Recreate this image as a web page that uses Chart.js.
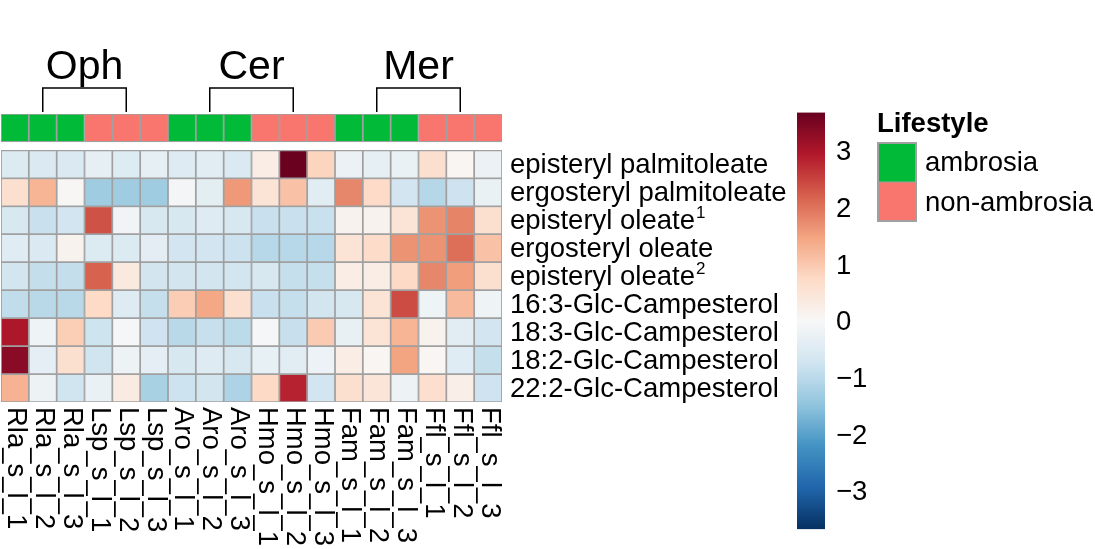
<!DOCTYPE html>
<html>
<head>
<meta charset="utf-8">
<script src="https://cdn.jsdelivr.net/npm/chart.js@4"></script>
<style>
html,body{margin:0;padding:0;background:#fff;}
canvas{display:block;}
</style>
</head>
<body>
<canvas id="c" width="1095" height="549"></canvas>
<script>
// ---------- data ----------
const columns = ['Rla_s_l_1','Rla_s_l_2','Rla_s_l_3','Lsp_s_l_1','Lsp_s_l_2','Lsp_s_l_3',
  'Aro_s_l_1','Aro_s_l_2','Aro_s_l_3','Hmo_s_l_1','Hmo_s_l_2','Hmo_s_l_3',
  'Fam_s_l_1','Fam_s_l_2','Fam_s_l_3','Ffl_s_l_1','Ffl_s_l_2','Ffl_s_l_3'];
const rowNames = ['episteryl palmitoleate','ergosteryl palmitoleate','episteryl oleate','ergosteryl oleate',
  'episteryl oleate','16:3-Glc-Campesterol','18:3-Glc-Campesterol','18:2-Glc-Campesterol','22:2-Glc-Campesterol'];
const rowSup = ['','','1','','2','','','',''];
const lifestyle = ['ambrosia','ambrosia','ambrosia','non-ambrosia','non-ambrosia','non-ambrosia',
  'ambrosia','ambrosia','ambrosia','non-ambrosia','non-ambrosia','non-ambrosia',
  'ambrosia','ambrosia','ambrosia','non-ambrosia','non-ambrosia','non-ambrosia'];
const lifestyleLevels = ['ambrosia','non-ambrosia'];
const groupNames = ['Oph','Cer','Mer'];
const groupFrom = [1,7,13];
const groupTo = [4,10,16];
const colorbarTicks = [3,2,1,0,-1,-2,-3];
const colorMin = -3.66, colorMax = 3.69;

const episterylPalmitoleate = [-0.50,-0.53,-0.53,-0.32,-0.48,-0.32,-0.47,-0.40,-0.53,0.28,3.66,0.83,-0.21,-0.33,-0.25,0.62,0.08,-0.21];
const ergosterylPalmitoleate = [0.62,1.27,0.04,-1.29,-1.29,-1.29,-0.07,-0.37,1.61,0.54,1.10,-0.42,1.82,0.74,-0.70,-1.05,-0.76,-0.23];
const episterylOleate1 = [-0.61,-0.81,-0.71,2.36,-0.11,-0.61,-0.61,-0.47,-0.60,-0.81,-0.81,-0.81,0.15,0.15,0.54,1.68,1.84,0.62];
const ergosterylOleate = [-0.44,-0.55,0.15,-0.50,-0.50,-0.38,-0.71,-0.71,-0.78,-1.03,-1.03,-1.03,0.54,0.70,1.68,1.68,2.06,1.10];
const episterylOleate2 = [-0.68,-0.87,-0.87,2.19,0.38,-0.68,-0.68,-0.68,-0.68,-0.61,-0.86,-0.86,0.28,0.28,0.77,1.82,1.56,0.62];
const glc163 = [-0.91,-1.00,-1.00,0.75,-0.47,-0.85,0.94,1.45,0.62,-0.81,-0.86,-0.69,-0.61,0.54,2.42,-0.15,1.20,-0.15];
const glc183 = [3.00,-0.15,0.93,-0.75,-0.02,-0.74,-1.00,-0.83,-0.96,-0.02,-0.83,0.97,-0.27,0.54,1.27,0.15,-0.40,-0.70];
const glc182 = [3.35,-0.35,0.62,-0.72,-0.17,-0.35,-0.59,-0.47,-0.61,-0.29,-0.42,-0.19,0.28,0.08,1.50,0.08,-0.44,-0.86];
const glc222 = [1.31,-0.17,-0.72,-0.25,0.33,-1.19,-0.77,-0.68,-1.13,0.76,2.85,-0.70,0.62,0.49,-0.17,0.64,0.25,-0.74];
const matrix = [episterylPalmitoleate, ergosterylPalmitoleate, episterylOleate1, ergosterylOleate,
  episterylOleate2, glc163, glc183, glc182, glc222];

// ---------- styles ----------
const FONT = '"Liberation Sans", Arial, Helvetica, sans-serif';
const FS = 27.5;
const lifestyleColors = {'ambrosia':'#00BA38','non-ambrosia':'#F8766D'};
const gridColor = '#A0A0A0';
const rdbu = ['#053061','#2166AC','#4393C3','#92C5DE','#D1E5F0','#F7F7F7','#FDDBC7','#F4A582','#D6604D','#B2182B','#67001F'];
function hex2rgb(h){return [parseInt(h.slice(1,3),16),parseInt(h.slice(3,5),16),parseInt(h.slice(5,7),16)];}
const rdbuRgb = rdbu.map(hex2rgb);
function valColor(v){
  let t = (v - colorMin)/(colorMax - colorMin);
  t = Math.max(0, Math.min(1, t));
  const p = t*(rdbuRgb.length-1);
  const i = Math.min(Math.floor(p), rdbuRgb.length-2);
  const f = p - i;
  const a = rdbuRgb[i], b = rdbuRgb[i+1];
  const c = a.map((x,k)=>Math.round(x + (b[k]-x)*f));
  return 'rgb('+c[0]+','+c[1]+','+c[2]+')';
}

// ---------- datasets ----------
const ANNOT_TOP = -1.3, ANNOT_BOTTOM = -0.3;
const datasets = matrix.map((vals, r) => ({
  label: rowNames[r],
  data: vals.map(() => [r, r+1]),
  backgroundColor: vals.map(valColor),
  borderColor: gridColor,
  borderWidth: 1.2,
  borderSkipped: false,
  grouped: false,
  barPercentage: 1,
  categoryPercentage: 1
}));
datasets.push({
  label: 'Lifestyle',
  data: lifestyle.map(() => [ANNOT_TOP, ANNOT_BOTTOM]),
  backgroundColor: lifestyle.map(l => lifestyleColors[l]),
  borderColor: gridColor,
  borderWidth: 1.2,
  borderSkipped: false,
  grouped: false,
  barPercentage: 1,
  categoryPercentage: 1
});

// ---------- decorations ----------
const decor = {
  id: 'decor',
  afterDraw(chart){
    const ctx = chart.ctx, xs = chart.scales.x, ys = chart.scales.y, area = chart.chartArea;
    ctx.save();
    ctx.fillStyle = '#000';
    // column labels (rotated clockwise)
    ctx.font = FS + 'px ' + FONT;
    ctx.textAlign = 'left';
    ctx.textBaseline = 'middle';
    columns.forEach((c, i) => {
      const x = xs.getPixelForValue(i);
      ctx.save();
      ctx.translate(x + 1, area.bottom + 5);
      ctx.rotate(Math.PI/2);
      ctx.fillText(c, 0, 0);
      ctx.restore();
    });
    // row labels
    rowNames.forEach((n, r) => {
      const y = ys.getPixelForValue(r + 0.5);
      ctx.font = FS + 'px ' + FONT;
      ctx.textBaseline = 'middle';
      ctx.fillText(n, area.right + 8, y + 1);
      if (rowSup[r]) {
        const w = ctx.measureText(n).width;
        ctx.font = '17px ' + FONT;
        ctx.fillText(rowSup[r], area.right + 8 + w + 1, y - 7);
      }
    });
    // group brackets
    ctx.strokeStyle = '#000';
    ctx.lineWidth = 1.5;
    const brTop = ys.getPixelForValue(ANNOT_TOP) - 26;
    const brBottom = ys.getPixelForValue(ANNOT_TOP) - 2;
    ctx.font = '41px ' + FONT;
    ctx.textAlign = 'center';
    ctx.textBaseline = 'alphabetic';
    groupNames.forEach((g, k) => {
      const x1 = xs.getPixelForValue(groupFrom[k]);
      const x2 = xs.getPixelForValue(groupTo[k]);
      ctx.beginPath();
      ctx.moveTo(x1, brBottom);
      ctx.lineTo(x1, brTop);
      ctx.lineTo(x2, brTop);
      ctx.lineTo(x2, brBottom);
      ctx.stroke();
      ctx.fillText(g, (x1 + x2)/2, brTop - 9);
    });
    // colorbar
    const cbX = 797, cbW = 28;
    const zeroY = 321.7, unit = 56.67;
    const cbTop = zeroY - colorMax*unit, cbBot = zeroY - colorMin*unit;
    const grad = ctx.createLinearGradient(0, cbTop, 0, cbBot);
    for (let k = 0; k <= 40; k++) {
      const v = colorMax - (colorMax - colorMin)*k/40;
      grad.addColorStop(k/40, valColor(v));
    }
    ctx.fillStyle = grad;
    ctx.fillRect(cbX, cbTop, cbW, cbBot - cbTop);
    ctx.fillStyle = '#000';
    ctx.font = FS + 'px ' + FONT;
    ctx.textAlign = 'left';
    ctx.textBaseline = 'middle';
    colorbarTicks.forEach(t => {
      const lab = t < 0 ? '\u2212' + Math.abs(t) : String(t);
      ctx.fillText(lab, 836, zeroY - t*unit + 1);
    });
    // legend
    ctx.font = 'bold ' + FS + 'px ' + FONT;
    ctx.textBaseline = 'alphabetic';
    ctx.fillText('Lifestyle', 877, 132);
    lifestyleLevels.forEach((l, k) => {
      const y0 = 142 + k*40;
      ctx.fillStyle = lifestyleColors[l];
      ctx.fillRect(877, y0, 40, 40);
      ctx.fillStyle = '#000';
      ctx.font = FS + 'px ' + FONT;
      ctx.textBaseline = 'middle';
      ctx.fillText(l, 925, y0 + 21);
    });
    ctx.strokeStyle = gridColor;
    ctx.lineWidth = 2;
    ctx.strokeRect(878, 143, 38, 78);
    ctx.lineWidth = 1;
    ctx.beginPath(); ctx.moveTo(878, 182); ctx.lineTo(916, 182); ctx.stroke();
    ctx.restore();
  }
};

new Chart(document.getElementById('c'), {
  type: 'bar',
  data: { labels: columns, datasets: datasets },
  options: {
    responsive: false,
    animation: false,
    indexAxis: 'x',
    layout: { padding: { left: 1, right: 593, top: 114, bottom: 147 } },
    scales: {
      x: { type: 'category', display: false, offset: true, grid: { display: false } },
      y: { type: 'linear', display: false, min: ANNOT_TOP, max: 9, reverse: true }
    },
    plugins: { legend: { display: false }, tooltip: { enabled: false } }
  },
  plugins: [decor]
});
</script>
</body>
</html>
